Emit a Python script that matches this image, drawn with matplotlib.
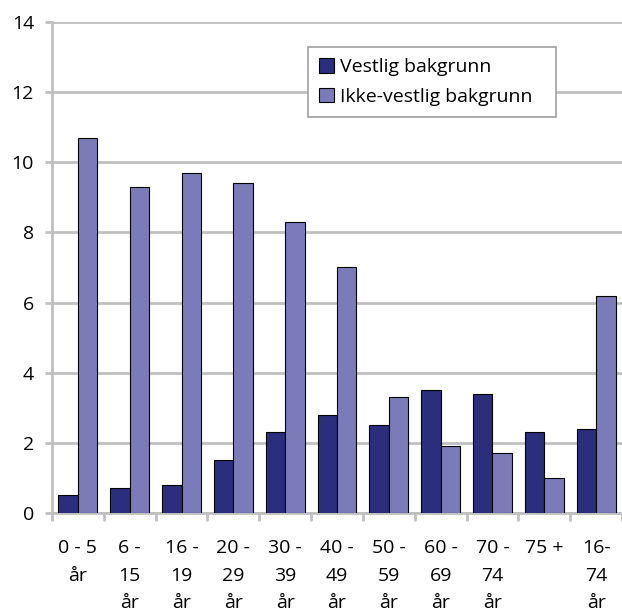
import numpy as np
import matplotlib
matplotlib.use("Agg")
import matplotlib.pyplot as plt
from matplotlib.ticker import FixedLocator

# ---------- data ----------
categories = ["0 - 5\når", "6 -\n15\når", "16 -\n19\når", "20 -\n29\når", "30 -\n39\når",
              "40 -\n49\når", "50 -\n59\når", "60 -\n69\når", "70 -\n74\når", "75 +", "16-\n74\når"]
vestlig = [0.5, 0.7, 0.8, 1.5, 2.3, 2.8, 2.5, 3.5, 3.4, 2.3, 2.4]
ikke_vestlig = [10.7, 9.3, 9.7, 9.4, 8.3, 7.0, 3.3, 1.9, 1.7, 1.0, 6.2]
series_names = ["Vestlig bakgrunn", "Ikke-vestlig bakgrunn"]
# --------------------------

plt.rcParams['font.family'] = ['Open Sans', 'DejaVu Sans']
plt.rcParams['font.size'] = 14

fig = plt.figure(figsize=(6.22, 6.11), dpi=100)
ax = fig.add_axes([0.0836, 0.1604, 0.9164, 0.8036])

x = np.arange(len(categories))
w = 0.375
grid_col = "#c0c0c0"

ax.bar(x - w / 2, vestlig, w, color="#2b2e7c", edgecolor="black", linewidth=0.8,
       label=series_names[0], zorder=3)
ax.bar(x + w / 2, ikke_vestlig, w, color="#7b7bba", edgecolor="black", linewidth=0.8,
       label=series_names[1], zorder=3)

ax.set_xlim(-0.5, len(categories) - 0.5)
ax.set_ylim(0, 14)
ax.set_yticks(range(0, 15, 2))
ax.yaxis.grid(True, color=grid_col, linewidth=2)
ax.set_axisbelow(True)

for s in ["top", "right"]:
    ax.spines[s].set_visible(False)
for s in ["left", "bottom"]:
    ax.spines[s].set_color(grid_col)
    ax.spines[s].set_linewidth(2)

ax.tick_params(axis="y", length=5, width=2, color=grid_col, pad=8, labelsize=14)
ax.set_xticks(x)
ax.set_xticklabels(categories, linespacing=1.66)
ax.tick_params(axis="x", which="major", length=0, pad=19, labelsize=14)
ax.xaxis.set_minor_locator(FixedLocator(np.arange(-0.5, len(categories), 1)))
ax.tick_params(axis="x", which="minor", length=5.5, width=2, color=grid_col)

leg = ax.legend(loc="upper left", bbox_to_anchor=(0.449, 0.8, 0.435, 0.149),
                mode="expand", borderaxespad=0,
                fancybox=False, edgecolor="#a0a0a0", framealpha=1, borderpad=0.58,
                handlelength=0.75, handleheight=0.75, handletextpad=0.3,
                labelspacing=0.6, fontsize=14)
leg.get_frame().set_linewidth(1.2)

fig.savefig("out.png", dpi=100)
